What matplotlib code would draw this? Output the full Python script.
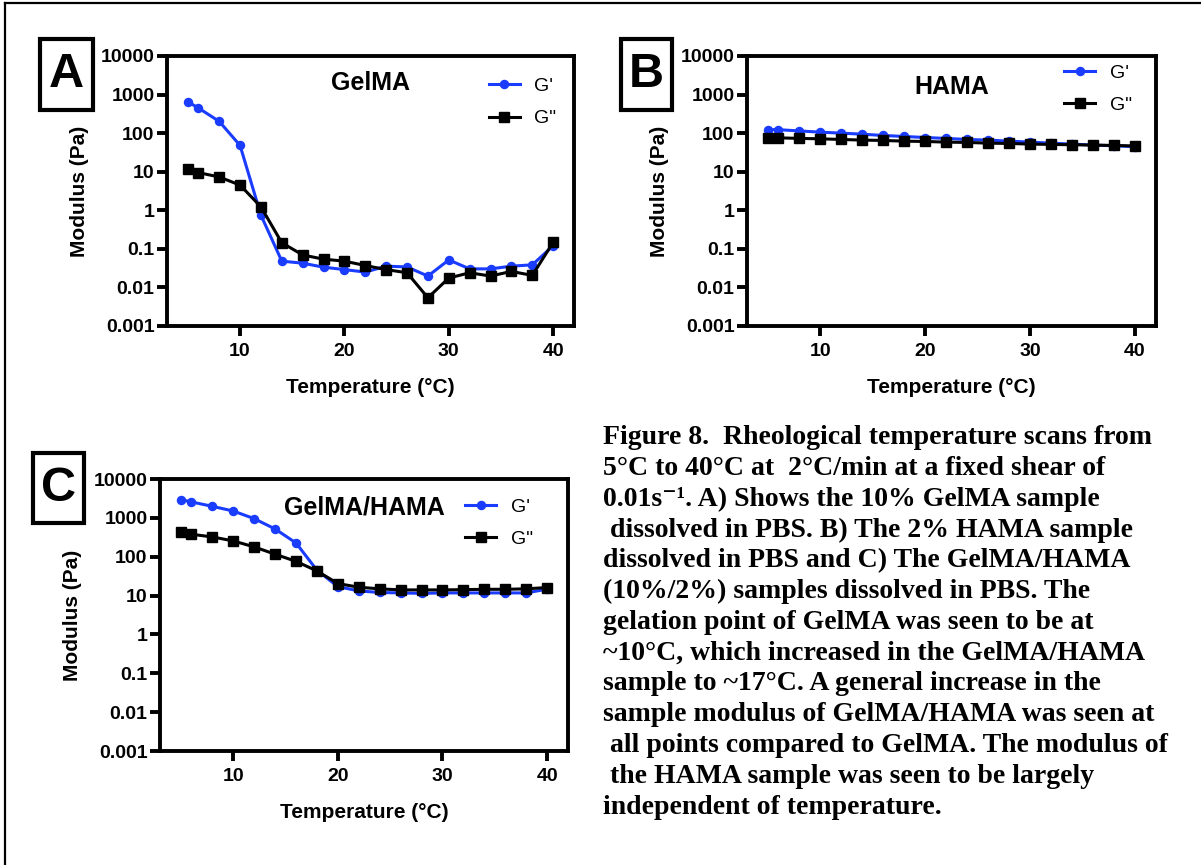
import matplotlib
matplotlib.use('Agg')
import matplotlib.pyplot as plt
from matplotlib.patches import Rectangle
from matplotlib.lines import Line2D

# temperature points (degC)
temp = [5, 6, 8, 10, 12, 14, 16, 18, 20, 22, 24, 26, 28, 30, 32, 34, 36, 38, 40]

# A) GelMA
gelma_g1 = [650, 450, 202, 48, 0.75, 0.048, 0.0425, 0.0335, 0.029, 0.025, 0.0356,
            0.034, 0.0197, 0.0516, 0.0303, 0.0303, 0.0356, 0.0385, 0.12]
gelma_g2 = [11.6, 9.5, 7.3, 4.5, 1.23, 0.144, 0.0695, 0.054, 0.048, 0.037, 0.029,
            0.024, 0.0054, 0.0175, 0.024, 0.0197, 0.026, 0.0205, 0.147]

# B) HAMA
hama_g1 = [124, 123, 114, 106, 100, 94, 87, 82, 77, 73, 68.5, 66, 62, 58.5, 55,
           52, 49, 47, 44.5]
hama_g2 = [75.6, 75.6, 73, 71.3, 68.5, 66, 64.6, 62, 60.8, 58.5, 57.4, 55, 54, 52,
           51, 50, 49, 48, 46.5]

# C) GelMA/HAMA
mix_g1 = [2940, 2570, 1980, 1500, 955, 518, 226, 45, 17, 13.2, 12, 11.7, 11.4,
          11.7, 11.7, 11.7, 11.7, 11.7, 14.6]
mix_g2 = [425, 378, 323, 255, 179, 116, 76, 43, 20.4, 16.4, 14.9, 14, 14, 14,
          14.2, 14.5, 14.5, 14.9, 16.1]

ytick_vals = [0.001, 0.01, 0.1, 1, 10, 100, 1000, 10000]
ytick_labels = ['0.001', '0.01', '0.1', '1', '10', '100', '1000', '10000']
xtick_vals = [10, 20, 30, 40]

caption = [
    "Figure 8.  Rheological temperature scans from",
    "5\u00b0C to 40\u00b0C at  2\u00b0C/min at a fixed shear of",
    "0.01s\u207b\u00b9. A) Shows the 10% GelMA sample",
    " dissolved in PBS. B) The 2% HAMA sample",
    "dissolved in PBS and C) The GelMA/HAMA",
    "(10%/2%) samples dissolved in PBS. The",
    "gelation point of GelMA was seen to be at",
    "~10\u00b0C, which increased in the GelMA/HAMA",
    "sample to ~17\u00b0C. A general increase in the",
    "sample modulus of GelMA/HAMA was seen at",
    " all points compared to GelMA. The modulus of",
    " the HAMA sample was seen to be largely",
    "independent of temperature.",
]

BLUE = '#1a3cff'
W, H = 1201, 865
plt.rcParams['font.family'] = ['Liberation Sans', 'DejaVu Sans']

fig = plt.figure(figsize=(W / 100, H / 100), dpi=100)


def px_axes(left, top, right, bottom):
    return fig.add_axes([left / W, 1 - bottom / H, (right - left) / W, (bottom - top) / H])


def draw_panel(ax, title, g1, g2, leg_xy, title_y):
    ax.plot(temp, g1, '-o', color=BLUE, lw=2.2, ms=5.8, label="G'")
    ax.plot(temp, g2, '-s', color='black', lw=2.2, ms=6.5, label='G"')
    ax.set_yscale('log')
    ax.set_ylim(0.001, 10000)
    ax.set_xlim(3, 42)
    ax.set_yticks(ytick_vals)
    ax.set_yticklabels(ytick_labels)
    ax.yaxis.set_minor_locator(matplotlib.ticker.NullLocator())
    ax.set_xticks(xtick_vals)
    ax.set_xticklabels([str(v) for v in xtick_vals])
    for s in ax.spines.values():
        s.set_linewidth(2.8)
    ax.tick_params(axis='y', length=7, width=2.8, pad=2, labelsize=14)
    ax.tick_params(axis='x', length=7, width=2.8, pad=5, labelsize=14)
    for lab in ax.get_xticklabels() + ax.get_yticklabels():
        lab.set_fontweight('bold')
    ax.set_xlabel('Temperature (\u00b0C)', fontsize=15, fontweight='bold')
    ax.set_ylabel('Modulus (Pa)', fontsize=15, fontweight='bold')
    ax.xaxis.set_label_coords(0.5, -0.226)
    ax.xaxis.label.set_va('center')
    ax.yaxis.set_label_coords(-0.215, 0.5)
    ax.yaxis.label.set_va('center')
    ax.text(0.5, title_y, title, transform=ax.transAxes, ha='center', va='center',
            fontsize=18, fontweight='bold')
    ax.legend(loc='upper left', bbox_to_anchor=leg_xy, frameon=False, fontsize=14,
              handlelength=1.6, handletextpad=0.75, labelspacing=0.75,
              borderaxespad=0, borderpad=0)


def letter_box(letter, left, top, right, bottom):
    fig.patches.append(Rectangle((left / W, 1 - bottom / H), (right - left) / W,
                                 (bottom - top) / H, transform=fig.transFigure,
                                 fill=False, lw=3, ec='black'))
    fig.text((left + right) / 2 / W, 1 - (top + bottom) / 2 / H, letter,
             ha='center', va='center', fontsize=35, fontweight='bold')


axA = px_axes(167, 56, 574, 326)
draw_panel(axA, 'GelMA', gelma_g1, gelma_g2, (0.79, 0.92), 0.90)
axB = px_axes(747, 56, 1156, 326)
draw_panel(axB, 'HAMA', hama_g1, hama_g2, (0.775, 0.97), 0.885)
axC = px_axes(160, 479, 568, 751)
draw_panel(axC, 'GelMA/HAMA', mix_g1, mix_g2, (0.748, 0.93), 0.897)

letter_box('A', 40, 39, 93, 110)
letter_box('B', 621, 39, 672, 110)
letter_box('C', 33, 453, 84, 523)

# caption text
for i, line in enumerate(caption):
    y = 438 + i * 30.75
    fig.text(603 / W, 1 - y / H, line, ha='left', va='center', fontsize=20,
             fontweight='bold', family=['Liberation Serif', 'DejaVu Serif'])

# outer frame (top and left edges)
fig.add_artist(Line2D([5 / W, 1], [1 - 3 / H, 1 - 3 / H], transform=fig.transFigure,
                      color='black', lw=1.6))
fig.add_artist(Line2D([5 / W, 5 / W], [0, 1 - 3 / H], transform=fig.transFigure,
                      color='black', lw=1.6))

fig.savefig('out.png', dpi=100)
